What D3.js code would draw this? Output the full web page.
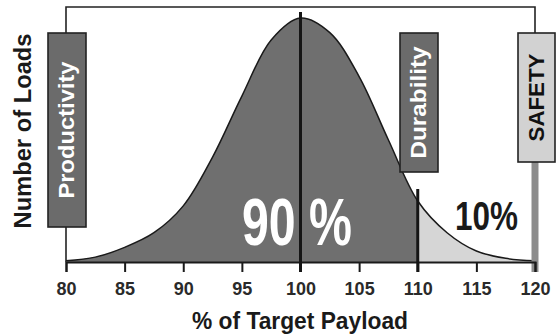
<!DOCTYPE html>
<html>
<head>
<meta charset="utf-8">
<script src="https://cdn.jsdelivr.net/npm/d3@7"></script>
<style>
  html, body { margin: 0; padding: 0; background: #fff; }
  svg { display: block; font-family: "Liberation Sans", Arial, sans-serif; }
</style>
</head>
<body>
<svg id="chart" width="559" height="334"></svg>
<script>
// ---- data ----
const payload = [80, 82.5, 85, 87.5, 90, 92.5, 95, 97.5, 100, 102.5, 105, 107.5, 110, 112.5, 115, 117.5, 120];
const loads   = [0.5, 2, 6, 12, 23, 43, 68, 91, 100, 94, 76, 50, 25, 12, 4.5, 1.5, 0.5];
const tickValues = [80, 85, 90, 95, 100, 105, 110, 115, 120];
const target = 100;
const durabilityLimit = 110;
const safetyLimit = 120;
const shareBelow = "90 %";
const shareAbove = "10%";
const boxLabels = ["Productivity", "Durability", "SAFETY"];
const xTitle = "% of Target Payload";
const yTitle = "Number of Loads";

const svg = d3.select("#chart");
const x = d3.scaleLinear().domain([80, 120]).range([66, 535]);
const y = d3.scaleLinear().domain([0, 100]).range([262, 18]);
const pts = payload.map((p, i) => [p, loads[i]]);

const area = d3.area().x(d => x(d[0])).y0(y(0)).y1(d => y(d[1])).curve(d3.curveCatmullRom);
const line = d3.line().x(d => x(d[0])).y(d => y(d[1])).curve(d3.curveCatmullRom);

const defs = svg.append("defs");
defs.append("clipPath").attr("id", "clipLeft").append("rect")
  .attr("x", 0).attr("y", 0).attr("width", x(durabilityLimit)).attr("height", 334);
defs.append("clipPath").attr("id", "clipRight").append("rect")
  .attr("x", x(durabilityLimit)).attr("y", 0).attr("width", 559 - x(durabilityLimit)).attr("height", 334);

// top bracket
svg.append("path")
  .attr("d", `M${x(80)},33 V7 H${x(safetyLimit)} V33`)
  .attr("fill", "none").attr("stroke", "#222").attr("stroke-width", 1.6);
// left vertical under productivity box
svg.append("line").attr("x1", x(80)).attr("x2", x(80)).attr("y1", 33).attr("y2", y(0))
  .attr("stroke", "#222").attr("stroke-width", 1.6);

// areas
svg.append("path").datum(pts).attr("d", area).attr("fill", "#6f6f6f").attr("clip-path", "url(#clipLeft)");
svg.append("path").datum(pts).attr("d", area).attr("fill", "#d6d6d6").attr("clip-path", "url(#clipRight)");
svg.append("path").datum(pts).attr("d", line).attr("fill", "none").attr("stroke", "#1a1a1a").attr("stroke-width", 1.5);

// safety gray bar
svg.append("line").attr("x1", x(safetyLimit)).attr("x2", x(safetyLimit)).attr("y1", 162).attr("y2", 272)
  .attr("stroke", "#8c8c8c").attr("stroke-width", 7);

// x axis
const axis = svg.append("g").attr("transform", `translate(0,${y(0)})`)
  .call(d3.axisBottom(x).tickValues(tickValues).tickSize(10).tickPadding(10).tickFormat(d3.format("d")));
axis.select(".domain").attr("stroke", "#1a1a1a").attr("stroke-width", 2);
axis.selectAll(".tick line").attr("stroke", "#1a1a1a").attr("stroke-width", 2);
axis.selectAll(".tick text").attr("font-size", 18).attr("font-weight", "bold")
  .attr("fill", "#2a2a2a").attr("font-family", "'Liberation Sans', Arial, sans-serif");

// target and durability lines
svg.append("line").attr("x1", x(target)).attr("x2", x(target)).attr("y1", 12).attr("y2", 272)
  .attr("stroke", "#151515").attr("stroke-width", 3);
svg.append("line").attr("x1", x(durabilityLimit)).attr("x2", x(durabilityLimit)).attr("y1", 189).attr("y2", 272)
  .attr("stroke", "#151515").attr("stroke-width", 3);

// boxes
const boxes = [
  { label: boxLabels[0], x0: 48, x1: 86, y0: 33, y1: 227, fill: "#6b6b6b", color: "#fff", len: 137 },
  { label: boxLabels[1], x0: 400, x1: 438, y0: 33, y1: 172, fill: "#6b6b6b", color: "#fff", len: 112 },
  { label: boxLabels[2], x0: 518, x1: 555, y0: 33, y1: 162, fill: "#d2d2d2", color: "#111", len: 88 }
];
boxes.forEach(b => {
  svg.append("rect").attr("x", b.x0).attr("y", b.y0).attr("width", b.x1 - b.x0).attr("height", b.y1 - b.y0)
    .attr("fill", b.fill).attr("stroke", "#222").attr("stroke-width", 1.6);
  const cx = (b.x0 + b.x1) / 2 + 7, cy = (b.y0 + b.y1) / 2;
  svg.append("text").attr("transform", `translate(${cx},${cy}) rotate(-90)`)
    .attr("text-anchor", "middle").attr("font-size", 22).attr("font-weight", "bold")
    .attr("fill", b.color).attr("textLength", b.len).attr("lengthAdjust", "spacingAndGlyphs")
    .text(b.label);
});

// percentages
svg.append("text").attr("x", 242).attr("y", 245).attr("font-size", 66).attr("font-weight", "bold")
  .attr("fill", "#fff").attr("textLength", 110).attr("lengthAdjust", "spacingAndGlyphs").text(shareBelow);
svg.append("text").attr("x", 455).attr("y", 230).attr("font-size", 41).attr("font-weight", "bold")
  .attr("fill", "#1a1a1a").attr("textLength", 63).attr("lengthAdjust", "spacingAndGlyphs").text(shareAbove);

// axis titles
svg.append("text").attr("x", 300).attr("y", 329).attr("text-anchor", "middle")
  .attr("font-size", 24).attr("font-weight", "bold").attr("fill", "#1a1a1a")
  .attr("textLength", 216).attr("lengthAdjust", "spacingAndGlyphs").text(xTitle);
svg.append("text").attr("transform", "translate(31,131) rotate(-90)").attr("text-anchor", "middle")
  .attr("font-size", 23).attr("font-weight", "bold").attr("fill", "#1a1a1a")
  .attr("textLength", 195).attr("lengthAdjust", "spacingAndGlyphs").text(yTitle);
</script>
</body>
</html>
